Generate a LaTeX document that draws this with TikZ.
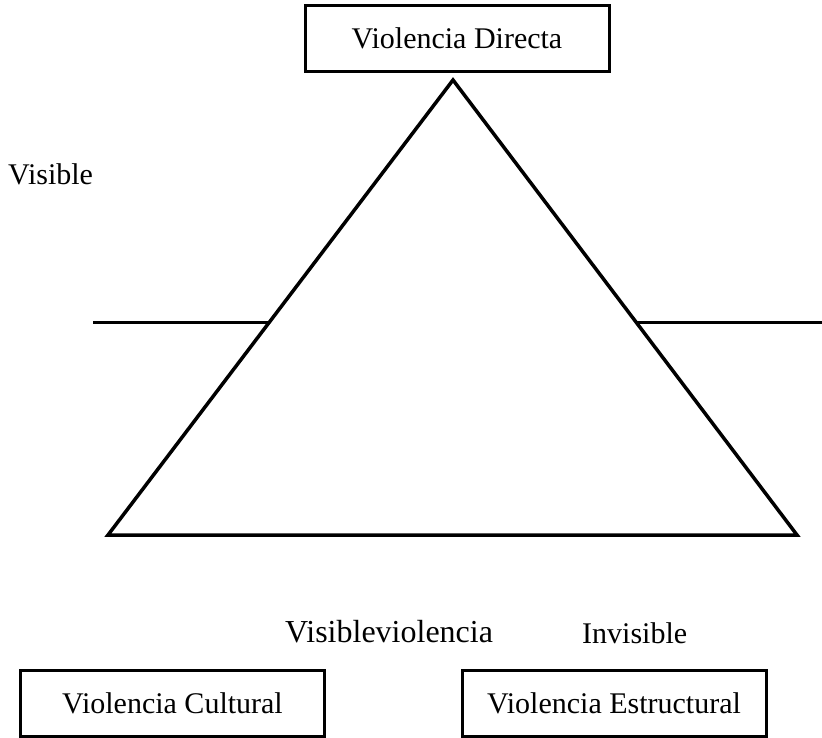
\documentclass[tikz,border=0pt]{standalone}
\usepackage{fontspec}
\setmainfont{Liberation Serif}
\begin{document}
\begin{tikzpicture}[x=1pt,y=-1pt]
    \tikzset{caja/.style={draw,line width=3pt,minimum width=304pt,minimum height=66pt,inner sep=0pt,font=\fontsize{30}{36}\selectfont}}
    \tikzset{etiqueta/.style={anchor=base west,inner sep=0pt,font=\fontsize{30}{36}\selectfont}}
    \useasboundingbox (0,0) rectangle (822,738);
    \coordinate (P) at (453,80);
    \coordinate (BL) at (108,535);
    \coordinate (BR) at (797,535);
    \coordinate (L1) at (93,322);
    \coordinate (L2) at (269.5,322);
    \coordinate (R1) at (636,322);
    \coordinate (R2) at (822,322);
    \node[caja] (D) at (457,38.5) {Violencia Directa};
    \node[caja] (C) at (172.5,703.5) {Violencia Cultural};
    \node[caja] (E) at (614,703.5) {Violencia Estructural};
    \node[etiqueta] (V) at (8,185) {Visible};
    \node[etiqueta,font=\fontsize{32}{38}\selectfont] (VV) at (285,642) {Visibleviolencia};
    \node[etiqueta] (I) at (582,643) {Invisible};
    \draw[line width=3.5pt,line join=miter] (P) -- (BL) -- (BR) -- cycle;
    \draw[line width=3pt] (L1) -- (L2);
    \draw[line width=3pt] (R1) -- (R2);
  \end{tikzpicture}
\end{document}
